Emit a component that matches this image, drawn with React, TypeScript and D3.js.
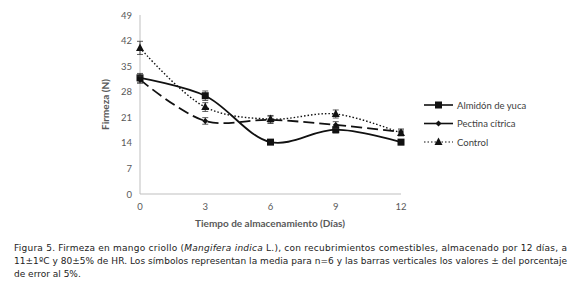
import React from "react";
import * as d3 from "d3";

const days = [0, 3, 6, 9, 12];
const yTicks = [0, 7, 14, 21, 28, 35, 42, 49];
const almidon = [31.8, 26.9, 14.2, 17.6, 14.2];
const almidonErr = [1.2, 1.3, 0.5, 0.9, 0.7];
const pectina = [31.3, 20.0, 20.3, 18.9, 17.0];
const pectinaErr = [1.0, 0.9, 1.0, 0.9, 0.8];
const control = [40.0, 23.8, 20.5, 21.9, 16.7];
const controlErr = [1.8, 1.2, 1.0, 1.1, 0.8];
const seriesNames = ["Almidón de yuca", "Pectina cítrica", "Control"];

export default function App() {
  const x = d3.scaleLinear().domain([0, 12]).range([140, 401]);
  const y = d3.scaleLinear().domain([0, 49]).range([194, 15]);
  const line = d3
    .line<number>()
    .x((_, i) => x(days[i]))
    .y((d) => y(d))
    .curve(d3.curveCatmullRom.alpha(0.5));

  const series = [
    { vals: almidon, err: almidonErr, dash: "none", w: 1.8, marker: "square" },
    { vals: pectina, err: pectinaErr, dash: "11,5", w: 1.8, marker: "diamond" },
    { vals: control, err: controlErr, dash: "1.5,2", w: 1.4, marker: "triangle" },
  ];

  const marker = (type: string, cx: number, cy: number, key: string) => {
    if (type === "square")
      return <rect key={key} x={cx - 3.5} y={cy - 3.5} width={7} height={7} fill="#111" />;
    if (type === "diamond")
      return (
        <path key={key} d={`M${cx},${cy - 3}L${cx + 3},${cy}L${cx},${cy + 3}L${cx - 3},${cy}Z`} fill="#111" />
      );
    return (
      <path key={key} d={`M${cx},${cy - 4.5}L${cx + 4},${cy + 3}L${cx - 4},${cy + 3}Z`} fill="#111" />
    );
  };

  const tickFont = "Lato, 'Open Sans', sans-serif";
  const capFont = "'DejaVu Sans', sans-serif";

  return (
    <svg width={580} height={288} style={{ position: "absolute", left: 0, top: 0 }}>
      <rect width={580} height={288} fill="#fff" />
      {/* axes */}
      <line x1={140} x2={140} y1={y(49)} y2={y(0)} stroke="#bfbfbf" strokeWidth={1} />
      <line x1={140} x2={401} y1={y(0)} y2={y(0)} stroke="#bfbfbf" strokeWidth={1} />
      {yTicks.map((t) => (
        <text key={"y" + t} x={132} y={y(t) + 3.5} textAnchor="end" fontSize={9.5} fill="#595959" fontFamily={tickFont}>
          {t}
        </text>
      ))}
      {days.map((t) => (
        <text key={"x" + t} x={x(t)} y={210} textAnchor="middle" fontSize={9.5} fill="#595959" fontFamily={tickFont}>
          {t}
        </text>
      ))}
      <text
        transform={`translate(109,${(y(0) + y(49)) / 2}) rotate(-90)`}
        textAnchor="middle"
        fontSize={10}
        fontWeight="bold"
        fill="#595959"
        fontFamily={tickFont}
      >
        Firmeza (N)
      </text>
      <text x={270} y={227} textAnchor="middle" fontSize={10} fontWeight="bold" fill="#595959" fontFamily={tickFont}>
        Tiempo de almacenamiento (Días)
      </text>
      {/* series */}
      {series.map((s, si) => (
        <g key={"s" + si}>
          <path d={line(s.vals) || ""} fill="none" stroke="#111" strokeWidth={s.w} strokeDasharray={s.dash} />
          {s.vals.map((v, i) => (
            <g key={"e" + i} stroke="#333" strokeWidth={0.8}>
              <line x1={x(days[i])} x2={x(days[i])} y1={y(v - s.err[i])} y2={y(v + s.err[i])} />
              <line x1={x(days[i]) - 3} x2={x(days[i]) + 3} y1={y(v - s.err[i])} y2={y(v - s.err[i])} />
              <line x1={x(days[i]) - 3} x2={x(days[i]) + 3} y1={y(v + s.err[i])} y2={y(v + s.err[i])} />
            </g>
          ))}
          {s.vals.map((v, i) => marker(s.marker, x(days[i]), y(v), "m" + i))}
        </g>
      ))}
      {/* legend */}
      {series.map((s, si) => {
        const ly = 105 + si * 18.5;
        return (
          <g key={"l" + si}>
            <line
              x1={424}
              x2={453}
              y1={ly}
              y2={ly}
              stroke="#111"
              strokeWidth={s.marker === "triangle" ? 1.2 : 1.6}
              strokeDasharray={s.marker === "triangle" ? "1.5,2" : "none"}
            />
            {marker(s.marker, 438.5, ly, "lm")}
            <text x={457} y={ly + 3.5} fontSize={9.5} fill="#404040" fontFamily={tickFont}>
              {seriesNames[si]}
            </text>
          </g>
        );
      })}
      {/* caption */}
      <text x={14} y={251} fontSize={9} fill="#222" fontFamily={capFont} textLength={553} lengthAdjust="spacing">
        Figura 5. Firmeza en mango criollo (<tspan fontStyle="italic">Mangifera indica</tspan> L.), con recubrimientos comestibles, almacenado por 12 días, a
      </text>
      <text x={14} y={264} fontSize={9} fill="#222" fontFamily={capFont} textLength={553} lengthAdjust="spacing">
        11±1ºC y 80±5% de HR. Los símbolos representan la media para n=6 y las barras verticales los valores ± del porcentaje
      </text>
      <text x={14} y={277} fontSize={9} fill="#222" fontFamily={capFont}>
        de error al 5%.
      </text>
    </svg>
  );
}
